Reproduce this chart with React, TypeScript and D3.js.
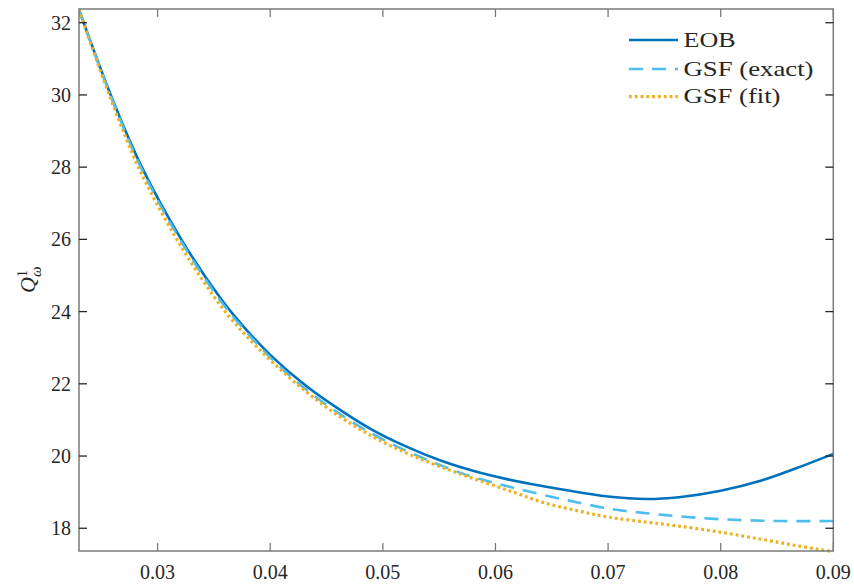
import React from "react";
import * as d3 from "d3";

// x values (orbital frequency) and series values
const eobX = [0.023, 0.0259, 0.0286, 0.0321, 0.0357, 0.0379, 0.0403, 0.0432, 0.0462, 0.0491, 0.0521, 0.055, 0.058, 0.061, 0.0645, 0.07, 0.0734, 0.0763, 0.08, 0.0837, 0.0867, 0.09];
const eobY = [32.38, 29.95, 28.0, 26.0, 24.32, 23.49, 22.71, 21.94, 21.28, 20.72, 20.26, 19.89, 19.59, 19.36, 19.15, 18.88, 18.81, 18.86, 19.04, 19.33, 19.66, 20.06];

const gsfExactX = [0.023, 0.0259, 0.0286, 0.0321, 0.0357, 0.0379, 0.0403, 0.0432, 0.0462, 0.0491, 0.0521, 0.055, 0.058, 0.0615, 0.066, 0.0704, 0.0749, 0.08, 0.0852, 0.09];
const gsfExactY = [32.37, 29.92, 27.94, 25.94, 24.25, 23.43, 22.64, 21.84, 21.16, 20.61, 20.14, 19.76, 19.42, 19.13, 18.8, 18.53, 18.37, 18.25, 18.2, 18.2];

const gsfFitX = [0.023, 0.0259, 0.0286, 0.0321, 0.0357, 0.0379, 0.0403, 0.0432, 0.0462, 0.0491, 0.0521, 0.055, 0.058, 0.0615, 0.0645, 0.0675, 0.07, 0.0734, 0.0763, 0.08, 0.0837, 0.0867, 0.09];
const gsfFitY = [32.38, 29.84, 27.8, 25.8, 24.12, 23.32, 22.57, 21.78, 21.09, 20.54, 20.08, 19.72, 19.38, 19.01, 18.69, 18.47, 18.31, 18.17, 18.06, 17.89, 17.69, 17.52, 17.35];

const xTicks = [0.03, 0.04, 0.05, 0.06, 0.07, 0.08, 0.09];
const yTicks = [18, 20, 22, 24, 26, 28, 30, 32];
const legendLabels = ["EOB", "GSF (exact)", "GSF (fit)"];

const W = 854, H = 587;
const L = 79, T = 9, R = 833.3, B = 551;

export default function App() {
  const x = d3.scaleLinear().domain([0.02302, 0.09]).range([L, R]);
  const y = d3.scaleLinear().domain([17.37, 32.38]).range([B, T]);
  const line = d3.line<[number, number]>().x(d => x(d[0])).y(d => y(d[1])).curve(d3.curveCatmullRom.alpha(0.5));
  const zip = (a: number[], b: number[]) => a.map((v, i) => [v, b[i]] as [number, number]);

  const axisColor = "#7a7a7a";
  const textColor = "#262626";
  const font = "'Liberation Serif', 'Times New Roman', serif";
  const tickLen = 8;

  const series = [
    { d: zip(eobX, eobY), color: "#0072BD", dash: undefined, w: 2.6 },
    { d: zip(gsfExactX, gsfExactY), color: "#4DBEEE", dash: "14 9", w: 2.6 },
    { d: zip(gsfFitX, gsfFitY), color: "#EDB120", dash: "2.8 3", w: 3.2 },
  ];
  const legendW = [52, 130, 97];

  return (
    <svg width={W} height={H} style={{ position: "absolute", left: 0, top: 0, background: "#fff" }}>
      <defs>
        <clipPath id="plotclip">
          <rect x={L} y={T - 2} width={R - L + 2} height={B - T + 4} />
        </clipPath>
      </defs>
      <g clipPath="url(#plotclip)">
        {series.map((s, i) => (
          <path key={i} d={line(s.d) || ""} fill="none" stroke={s.color} strokeWidth={s.w} strokeDasharray={s.dash} />
        ))}
      </g>
      {/* axes box */}
      <rect x={L} y={T} width={R - L} height={B - T} fill="none" stroke={axisColor} strokeWidth={1.5} />
      {xTicks.map(t => (
        <g key={"x" + t}>
          <line x1={x(t)} x2={x(t)} y1={B} y2={B - tickLen} stroke={axisColor} strokeWidth={1.3} />
          <line x1={x(t)} x2={x(t)} y1={T} y2={T + tickLen} stroke={axisColor} strokeWidth={1.3} />
          <text x={x(t)} y={579} textAnchor="middle" fontFamily={font} fontSize={20} fill={textColor}>{t.toFixed(2)}</text>
        </g>
      ))}
      {yTicks.map(t => (
        <g key={"y" + t}>
          <line x1={L} x2={L + tickLen} y1={y(t)} y2={y(t)} stroke={textColor} strokeWidth={1.3} />
          <line x1={R} x2={R - tickLen} y1={y(t)} y2={y(t)} stroke={textColor} strokeWidth={1.3} />
          <text x={71} y={y(t) + 7} textAnchor="end" fontFamily={font} fontSize={20} fill={textColor}>{t}</text>
        </g>
      ))}
      {/* y label */}
      <g transform="translate(35,281) rotate(-90)" fill={textColor} fontFamily={font}>
        <text x={-12} y={0} fontSize={22} fontStyle="italic">Q</text>
        <text x={4} y={-8} fontSize={14}>1</text>
        <text x={4} y={6} fontSize={15} fontStyle="italic">ω</text>
      </g>
      {/* legend */}
      {legendLabels.map((lab, i) => {
        const ly = [40, 69, 96.7][i];
        const s = series[i];
        return (
          <g key={lab}>
            <line x1={629} x2={678} y1={ly} y2={ly} stroke={s.color} strokeWidth={s.w} strokeDasharray={s.dash} />
            <text x={683.5} y={ly + 6.5} fontFamily={font} fontSize={21} fill={textColor}
              textLength={legendW[i]} lengthAdjust="spacingAndGlyphs">{lab}</text>
          </g>
        );
      })}
    </svg>
  );
}
